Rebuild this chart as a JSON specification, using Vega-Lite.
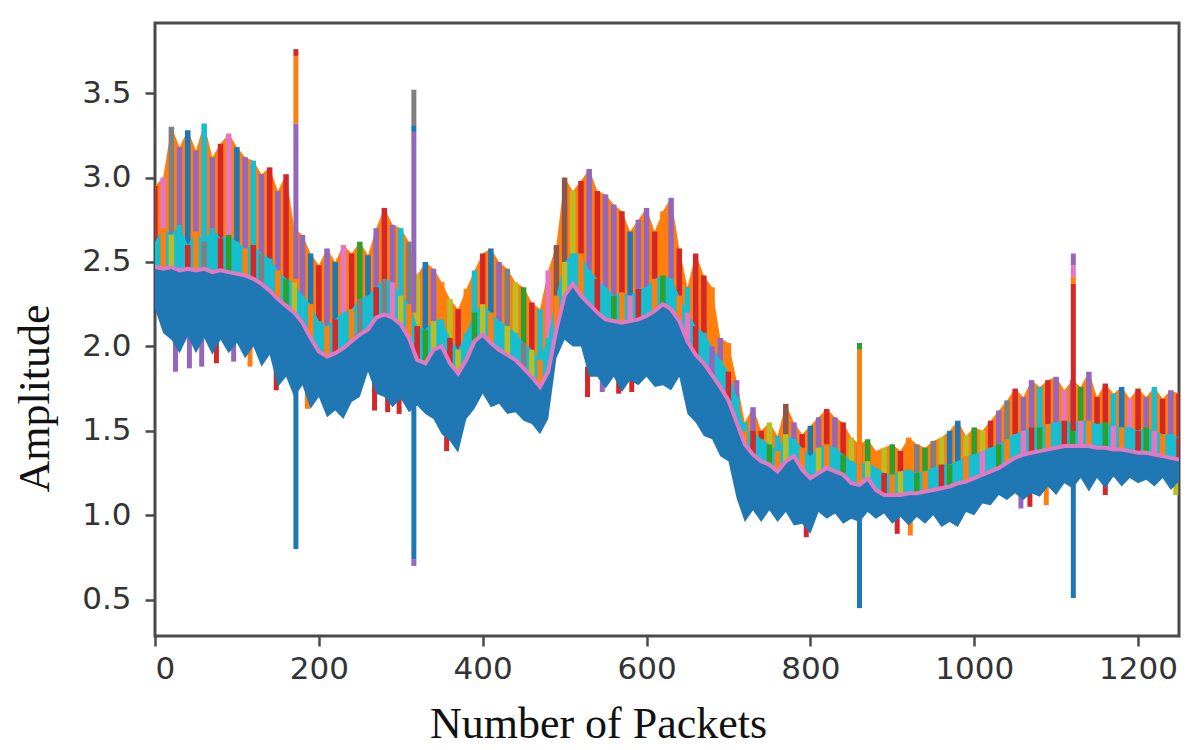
{
  "$schema": "https://vega.github.io/schema/vega-lite/v6.json",
  "width": 1024,
  "height": 613,
  "autosize": {"type": "none"},
  "padding": {"left": 155, "top": 23, "right": 17, "bottom": 114},
  "background": "white",
  "config": {
    "view": {"stroke": "#4a4a4a", "strokeWidth": 3},
    "axis": {
      "grid": false, "domain": false, "ticks": true, "tickColor": "#4a4a4a", "tickWidth": 2.5, "tickSize": 10,
      "labelFont": "DejaVu Sans", "labelFontSize": 31, "labelColor": "#333",
      "titleFont": "Liberation Serif", "titleFontSize": 44, "titleFontWeight": "normal", "titleColor": "#111"
    },
    "axisX": {"labelPadding": 8, "titleX": 443, "titleY": 101, "titleAlign": "center", "titleBaseline": "alphabetic"},
    "axisY": {"labelPadding": 14, "titleX": -107, "titleY": 375, "titleAngle": 270, "titleAlign": "center", "titleBaseline": "alphabetic"}
  },
  "datasets": {
    "band": [
      {"x": 0, "lo": 2.22, "mid": 2.47, "m2": 2.62, "hi": 2.95, "top": "s4", "sub": "s10"},
      {"x": 10, "lo": 2.08, "mid": 2.46, "m2": 2.70, "hi": 3.00, "top": "s7", "sub": "s2"},
      {"x": 20, "lo": 2.04, "mid": 2.47, "m2": 2.66, "hi": 3.30, "top": "s8", "sub": "s9"},
      {"x": 30, "lo": 1.96, "mid": 2.45, "m2": 2.72, "hi": 3.18, "top": "s5", "sub": "s10"},
      {"x": 40, "lo": 2.06, "mid": 2.46, "m2": 2.60, "hi": 3.28, "top": "s1", "sub": "s4"},
      {"x": 50, "lo": 1.96, "mid": 2.45, "m2": 2.68, "hi": 3.16, "top": "s5", "sub": "s2"},
      {"x": 60, "lo": 2.05, "mid": 2.46, "m2": 2.62, "hi": 3.32, "top": "s10", "sub": "s8"},
      {"x": 70, "lo": 1.95, "mid": 2.44, "m2": 2.70, "hi": 3.12, "top": "s5", "sub": "s10"},
      {"x": 80, "lo": 2.04, "mid": 2.45, "m2": 2.64, "hi": 3.20, "top": "s4", "sub": "s4"},
      {"x": 90, "lo": 1.96, "mid": 2.44, "m2": 2.66, "hi": 3.26, "top": "s7", "sub": "s3"},
      {"x": 100, "lo": 2.02, "mid": 2.43, "m2": 2.62, "hi": 3.18, "top": "s1", "sub": "s10"},
      {"x": 110, "lo": 1.93, "mid": 2.42, "m2": 2.58, "hi": 3.12, "top": "s5", "sub": "s2"},
      {"x": 120, "lo": 2.00, "mid": 2.40, "m2": 2.60, "hi": 3.10, "top": "s10", "sub": "s4"},
      {"x": 130, "lo": 1.88, "mid": 2.37, "m2": 2.55, "hi": 3.02, "top": "s5", "sub": "s8"},
      {"x": 140, "lo": 1.95, "mid": 2.33, "m2": 2.52, "hi": 3.06, "top": "s4", "sub": "s10"},
      {"x": 150, "lo": 1.76, "mid": 2.28, "m2": 2.45, "hi": 2.92, "top": "s5", "sub": "s2"},
      {"x": 160, "lo": 1.82, "mid": 2.24, "m2": 2.40, "hi": 3.02, "top": "s4", "sub": "s3"},
      {"x": 170, "lo": 1.70, "mid": 2.20, "m2": 2.38, "hi": 2.70, "top": "s2", "sub": "s9"},
      {"x": 180, "lo": 1.77, "mid": 2.14, "m2": 2.30, "hi": 2.66, "top": "s5", "sub": "s10"},
      {"x": 190, "lo": 1.63, "mid": 2.05, "m2": 2.25, "hi": 2.55, "top": "s1", "sub": "s2"},
      {"x": 200, "lo": 1.70, "mid": 1.97, "m2": 2.15, "hi": 2.48, "top": "s4", "sub": "s10"},
      {"x": 210, "lo": 1.58, "mid": 1.94, "m2": 2.12, "hi": 2.58, "top": "s5", "sub": "s2"},
      {"x": 220, "lo": 1.62, "mid": 1.96, "m2": 2.16, "hi": 2.50, "top": "s1", "sub": "s4"},
      {"x": 230, "lo": 1.57, "mid": 1.99, "m2": 2.20, "hi": 2.60, "top": "s7", "sub": "s10"},
      {"x": 240, "lo": 1.67, "mid": 2.03, "m2": 2.22, "hi": 2.55, "top": "s4", "sub": "s2"},
      {"x": 250, "lo": 1.70, "mid": 2.07, "m2": 2.28, "hi": 2.62, "top": "s3", "sub": "s8"},
      {"x": 260, "lo": 1.85, "mid": 2.10, "m2": 2.30, "hi": 2.54, "top": "s1", "sub": "s10"},
      {"x": 270, "lo": 1.72, "mid": 2.17, "m2": 2.35, "hi": 2.70, "top": "s5", "sub": "s4"},
      {"x": 280, "lo": 1.70, "mid": 2.19, "m2": 2.40, "hi": 2.82, "top": "s4", "sub": "s8"},
      {"x": 290, "lo": 1.64, "mid": 2.17, "m2": 2.38, "hi": 2.72, "top": "s5", "sub": "s7"},
      {"x": 300, "lo": 1.69, "mid": 2.13, "m2": 2.30, "hi": 2.70, "top": "s10", "sub": "s9"},
      {"x": 310, "lo": 1.61, "mid": 2.05, "m2": 2.25, "hi": 2.62, "top": "s8", "sub": "s2"},
      {"x": 320, "lo": 1.65, "mid": 1.92, "m2": 2.12, "hi": 2.42, "top": "s9", "sub": "s4"},
      {"x": 330, "lo": 1.60, "mid": 1.90, "m2": 2.10, "hi": 2.50, "top": "s1", "sub": "s3"},
      {"x": 340, "lo": 1.57, "mid": 1.98, "m2": 2.15, "hi": 2.46, "top": "s5", "sub": "s9"},
      {"x": 350, "lo": 1.48, "mid": 2.00, "m2": 2.16, "hi": 2.38, "top": "s2", "sub": "s10"},
      {"x": 360, "lo": 1.44, "mid": 1.90, "m2": 2.05, "hi": 2.28, "top": "s9", "sub": "s4"},
      {"x": 370, "lo": 1.37, "mid": 1.84, "m2": 1.98, "hi": 2.22, "top": "s4", "sub": "s9"},
      {"x": 380, "lo": 1.57, "mid": 1.92, "m2": 2.08, "hi": 2.34, "top": "s2", "sub": "s10"},
      {"x": 390, "lo": 1.63, "mid": 2.03, "m2": 2.20, "hi": 2.45, "top": "s10", "sub": "s3"},
      {"x": 400, "lo": 1.72, "mid": 2.07, "m2": 2.25, "hi": 2.55, "top": "s4", "sub": "s9"},
      {"x": 410, "lo": 1.64, "mid": 2.02, "m2": 2.20, "hi": 2.58, "top": "s1", "sub": "s2"},
      {"x": 420, "lo": 1.66, "mid": 1.98, "m2": 2.15, "hi": 2.50, "top": "s5", "sub": "s10"},
      {"x": 430, "lo": 1.60, "mid": 1.95, "m2": 2.12, "hi": 2.46, "top": "s8", "sub": "s9"},
      {"x": 440, "lo": 1.61, "mid": 1.92, "m2": 2.08, "hi": 2.38, "top": "s9", "sub": "s10"},
      {"x": 450, "lo": 1.56, "mid": 1.87, "m2": 2.02, "hi": 2.35, "top": "s3", "sub": "s8"},
      {"x": 460, "lo": 1.54, "mid": 1.82, "m2": 1.98, "hi": 2.26, "top": "s4", "sub": "s9"},
      {"x": 470, "lo": 1.48, "mid": 1.76, "m2": 1.92, "hi": 2.22, "top": "s10", "sub": "s2"},
      {"x": 480, "lo": 1.57, "mid": 1.85, "m2": 2.05, "hi": 2.45, "top": "s7", "sub": "s10"},
      {"x": 490, "lo": 1.93, "mid": 2.10, "m2": 2.30, "hi": 2.60, "top": "s6", "sub": "s2"},
      {"x": 500, "lo": 2.04, "mid": 2.30, "m2": 2.50, "hi": 3.00, "top": "s6", "sub": "s9"},
      {"x": 510, "lo": 2.00, "mid": 2.37, "m2": 2.55, "hi": 2.92, "top": "s9", "sub": "s10"},
      {"x": 520, "lo": 2.00, "mid": 2.30, "m2": 2.55, "hi": 2.98, "top": "s4", "sub": "s2"},
      {"x": 530, "lo": 1.82, "mid": 2.25, "m2": 2.45, "hi": 3.05, "top": "s5", "sub": "s10"},
      {"x": 540, "lo": 1.82, "mid": 2.20, "m2": 2.40, "hi": 2.92, "top": "s4", "sub": "s4"},
      {"x": 550, "lo": 1.75, "mid": 2.16, "m2": 2.35, "hi": 2.90, "top": "s5", "sub": "s10"},
      {"x": 560, "lo": 1.82, "mid": 2.15, "m2": 2.30, "hi": 2.84, "top": "s5", "sub": "s3"},
      {"x": 570, "lo": 1.73, "mid": 2.14, "m2": 2.32, "hi": 2.80, "top": "s4", "sub": "s2"},
      {"x": 580, "lo": 1.80, "mid": 2.15, "m2": 2.30, "hi": 2.68, "top": "s1", "sub": "s7"},
      {"x": 590, "lo": 1.77, "mid": 2.16, "m2": 2.34, "hi": 2.75, "top": "s5", "sub": "s4"},
      {"x": 600, "lo": 1.82, "mid": 2.18, "m2": 2.35, "hi": 2.82, "top": "s5", "sub": "s10"},
      {"x": 610, "lo": 1.76, "mid": 2.21, "m2": 2.40, "hi": 2.68, "top": "s4", "sub": "s2"},
      {"x": 620, "lo": 1.77, "mid": 2.25, "m2": 2.42, "hi": 2.80, "top": "s2", "sub": "s3"},
      {"x": 630, "lo": 1.74, "mid": 2.22, "m2": 2.40, "hi": 2.88, "top": "s5", "sub": "s10"},
      {"x": 640, "lo": 1.82, "mid": 2.15, "m2": 2.30, "hi": 2.58, "top": "s4", "sub": "s2"},
      {"x": 650, "lo": 1.60, "mid": 2.03, "m2": 2.20, "hi": 2.35, "top": "s10", "sub": "s7"},
      {"x": 660, "lo": 1.55, "mid": 1.95, "m2": 2.12, "hi": 2.55, "top": "s4", "sub": "s4"},
      {"x": 670, "lo": 1.47, "mid": 1.90, "m2": 2.08, "hi": 2.42, "top": "s4", "sub": "s10"},
      {"x": 680, "lo": 1.45, "mid": 1.83, "m2": 2.00, "hi": 2.35, "top": "s2", "sub": "s5"},
      {"x": 690, "lo": 1.35, "mid": 1.76, "m2": 1.92, "hi": 2.05, "top": "s5", "sub": "s10"},
      {"x": 700, "lo": 1.32, "mid": 1.68, "m2": 1.85, "hi": 2.02, "top": "s2", "sub": "s4"},
      {"x": 710, "lo": 1.10, "mid": 1.55, "m2": 1.70, "hi": 1.80, "top": "s5", "sub": "s10"},
      {"x": 720, "lo": 0.96, "mid": 1.42, "m2": 1.50, "hi": 1.55, "top": "s10", "sub": "s2"},
      {"x": 730, "lo": 1.03, "mid": 1.36, "m2": 1.50, "hi": 1.64, "top": "s5", "sub": "s4"},
      {"x": 740, "lo": 0.96, "mid": 1.32, "m2": 1.45, "hi": 1.50, "top": "s4", "sub": "s10"},
      {"x": 750, "lo": 1.03, "mid": 1.30, "m2": 1.42, "hi": 1.55, "top": "s9", "sub": "s3"},
      {"x": 760, "lo": 0.96, "mid": 1.26, "m2": 1.38, "hi": 1.47, "top": "s10", "sub": "s2"},
      {"x": 770, "lo": 1.02, "mid": 1.32, "m2": 1.48, "hi": 1.66, "top": "s6", "sub": "s9"},
      {"x": 780, "lo": 0.94, "mid": 1.35, "m2": 1.45, "hi": 1.55, "top": "s5", "sub": "s10"},
      {"x": 790, "lo": 0.95, "mid": 1.27, "m2": 1.40, "hi": 1.48, "top": "s4", "sub": "s2"},
      {"x": 800, "lo": 0.89, "mid": 1.22, "m2": 1.35, "hi": 1.53, "top": "s1", "sub": "s10"},
      {"x": 810, "lo": 1.02, "mid": 1.25, "m2": 1.40, "hi": 1.58, "top": "s5", "sub": "s9"},
      {"x": 820, "lo": 0.98, "mid": 1.28, "m2": 1.42, "hi": 1.63, "top": "s4", "sub": "s2"},
      {"x": 830, "lo": 1.01, "mid": 1.26, "m2": 1.40, "hi": 1.58, "top": "s5", "sub": "s10"},
      {"x": 840, "lo": 0.95, "mid": 1.24, "m2": 1.36, "hi": 1.55, "top": "s4", "sub": "s3"},
      {"x": 850, "lo": 0.98, "mid": 1.19, "m2": 1.32, "hi": 1.46, "top": "s9", "sub": "s10"},
      {"x": 860, "lo": 0.96, "mid": 1.18, "m2": 1.30, "hi": 1.42, "top": "s1", "sub": "s2"},
      {"x": 870, "lo": 1.02, "mid": 1.22, "m2": 1.32, "hi": 1.45, "top": "s3", "sub": "s9"},
      {"x": 880, "lo": 0.98, "mid": 1.15, "m2": 1.28, "hi": 1.38, "top": "s2", "sub": "s10"},
      {"x": 890, "lo": 1.01, "mid": 1.12, "m2": 1.25, "hi": 1.40, "top": "s9", "sub": "s4"},
      {"x": 900, "lo": 0.95, "mid": 1.12, "m2": 1.24, "hi": 1.42, "top": "s3", "sub": "s2"},
      {"x": 910, "lo": 0.99, "mid": 1.12, "m2": 1.26, "hi": 1.38, "top": "s4", "sub": "s9"},
      {"x": 920, "lo": 0.94, "mid": 1.13, "m2": 1.27, "hi": 1.46, "top": "s2", "sub": "s10"},
      {"x": 930, "lo": 0.99, "mid": 1.13, "m2": 1.25, "hi": 1.42, "top": "s8", "sub": "s3"},
      {"x": 940, "lo": 0.95, "mid": 1.14, "m2": 1.26, "hi": 1.40, "top": "s3", "sub": "s2"},
      {"x": 950, "lo": 1.00, "mid": 1.15, "m2": 1.28, "hi": 1.44, "top": "s8", "sub": "s10"},
      {"x": 960, "lo": 0.93, "mid": 1.16, "m2": 1.30, "hi": 1.46, "top": "s9", "sub": "s4"},
      {"x": 970, "lo": 0.96, "mid": 1.17, "m2": 1.30, "hi": 1.50, "top": "s1", "sub": "s3"},
      {"x": 980, "lo": 0.93, "mid": 1.19, "m2": 1.32, "hi": 1.56, "top": "s1", "sub": "s10"},
      {"x": 990, "lo": 1.02, "mid": 1.20, "m2": 1.35, "hi": 1.47, "top": "s9", "sub": "s2"},
      {"x": 1000, "lo": 1.00, "mid": 1.22, "m2": 1.36, "hi": 1.52, "top": "s3", "sub": "s10"},
      {"x": 1010, "lo": 1.07, "mid": 1.24, "m2": 1.38, "hi": 1.50, "top": "s9", "sub": "s7"},
      {"x": 1020, "lo": 1.06, "mid": 1.26, "m2": 1.40, "hi": 1.56, "top": "s4", "sub": "s10"},
      {"x": 1030, "lo": 1.12, "mid": 1.28, "m2": 1.42, "hi": 1.62, "top": "s5", "sub": "s3"},
      {"x": 1040, "lo": 1.09, "mid": 1.31, "m2": 1.45, "hi": 1.68, "top": "s8", "sub": "s2"},
      {"x": 1050, "lo": 1.13, "mid": 1.34, "m2": 1.48, "hi": 1.75, "top": "s4", "sub": "s10"},
      {"x": 1060, "lo": 1.09, "mid": 1.36, "m2": 1.50, "hi": 1.70, "top": "s5", "sub": "s7"},
      {"x": 1070, "lo": 1.13, "mid": 1.37, "m2": 1.52, "hi": 1.80, "top": "s5", "sub": "s4"},
      {"x": 1080, "lo": 1.11, "mid": 1.38, "m2": 1.52, "hi": 1.76, "top": "s10", "sub": "s3"},
      {"x": 1090, "lo": 1.17, "mid": 1.39, "m2": 1.54, "hi": 1.80, "top": "s4", "sub": "s2"},
      {"x": 1100, "lo": 1.12, "mid": 1.40, "m2": 1.55, "hi": 1.82, "top": "s5", "sub": "s10"},
      {"x": 1110, "lo": 1.19, "mid": 1.41, "m2": 1.56, "hi": 1.74, "top": "s7", "sub": "s4"},
      {"x": 1120, "lo": 1.16, "mid": 1.41, "m2": 1.55, "hi": 1.80, "top": "s5", "sub": "s3"},
      {"x": 1130, "lo": 1.22, "mid": 1.41, "m2": 1.56, "hi": 1.76, "top": "s3", "sub": "s7"},
      {"x": 1140, "lo": 1.14, "mid": 1.41, "m2": 1.56, "hi": 1.85, "top": "s5", "sub": "s2"},
      {"x": 1150, "lo": 1.22, "mid": 1.40, "m2": 1.54, "hi": 1.70, "top": "s4", "sub": "s10"},
      {"x": 1160, "lo": 1.16, "mid": 1.40, "m2": 1.55, "hi": 1.78, "top": "s4", "sub": "s3"},
      {"x": 1170, "lo": 1.23, "mid": 1.39, "m2": 1.53, "hi": 1.72, "top": "s10", "sub": "s7"},
      {"x": 1180, "lo": 1.17, "mid": 1.39, "m2": 1.52, "hi": 1.76, "top": "s1", "sub": "s2"},
      {"x": 1190, "lo": 1.22, "mid": 1.38, "m2": 1.52, "hi": 1.69, "top": "s7", "sub": "s10"},
      {"x": 1200, "lo": 1.19, "mid": 1.37, "m2": 1.50, "hi": 1.75, "top": "s4", "sub": "s4"},
      {"x": 1210, "lo": 1.21, "mid": 1.37, "m2": 1.52, "hi": 1.70, "top": "s5", "sub": "s3"},
      {"x": 1220, "lo": 1.17, "mid": 1.36, "m2": 1.50, "hi": 1.76, "top": "s10", "sub": "s7"},
      {"x": 1230, "lo": 1.22, "mid": 1.35, "m2": 1.48, "hi": 1.69, "top": "s4", "sub": "s2"},
      {"x": 1240, "lo": 1.15, "mid": 1.34, "m2": 1.48, "hi": 1.74, "top": "s5", "sub": "s10"},
      {"x": 1250, "lo": 1.20, "mid": 1.33, "m2": 1.46, "hi": 1.72, "top": "s4", "sub": "s4"}
    ],
    "spikes": [
      {"x": 172, "y": 2.4, "y2": 3.32, "sub": "s5"},
      {"x": 172, "y": 3.32, "y2": 3.72, "sub": "s2"},
      {"x": 172, "y": 3.72, "y2": 3.76, "sub": "s4"},
      {"x": 172, "y": 1.8, "y2": 0.80, "sub": "s1"},
      {"x": 316, "y": 2.2, "y2": 3.27, "sub": "s5"},
      {"x": 316, "y": 3.27, "y2": 3.31, "sub": "s1"},
      {"x": 316, "y": 3.31, "y2": 3.52, "sub": "s8"},
      {"x": 316, "y": 1.7, "y2": 0.74, "sub": "s1"},
      {"x": 316, "y": 0.74, "y2": 0.70, "sub": "s5"},
      {"x": 860, "y": 1.3, "y2": 1.98, "sub": "s2"},
      {"x": 860, "y": 1.98, "y2": 2.02, "sub": "s3"},
      {"x": 860, "y": 1.1, "y2": 0.45, "sub": "s1"},
      {"x": 1121, "y": 1.5, "y2": 2.37, "sub": "s4"},
      {"x": 1121, "y": 2.37, "y2": 2.41, "sub": "s2"},
      {"x": 1121, "y": 2.41, "y2": 2.48, "sub": "s7"},
      {"x": 1121, "y": 2.48, "y2": 2.55, "sub": "s5"},
      {"x": 1121, "y": 1.3, "y2": 0.51, "sub": "s1"}
    ],
    "fringe": [
      {"x": 25, "y": 2.08, "y2": 1.85, "sub": "s5"},
      {"x": 42, "y": 2.08, "y2": 1.87, "sub": "s5"},
      {"x": 57, "y": 2.06, "y2": 1.88, "sub": "s5"},
      {"x": 75, "y": 2.05, "y2": 1.90, "sub": "s4"},
      {"x": 96, "y": 2.06, "y2": 1.91, "sub": "s5"},
      {"x": 116, "y": 2.03, "y2": 1.88, "sub": "s2"},
      {"x": 148, "y": 1.88, "y2": 1.74, "sub": "s4"},
      {"x": 186, "y": 1.78, "y2": 1.63, "sub": "s2"},
      {"x": 268, "y": 1.80, "y2": 1.62, "sub": "s4"},
      {"x": 284, "y": 1.76, "y2": 1.61, "sub": "s4"},
      {"x": 298, "y": 1.74, "y2": 1.60, "sub": "s4"},
      {"x": 356, "y": 1.53, "y2": 1.38, "sub": "s4"},
      {"x": 528, "y": 1.88, "y2": 1.70, "sub": "s4"},
      {"x": 546, "y": 1.86, "y2": 1.73, "sub": "s5"},
      {"x": 566, "y": 1.86, "y2": 1.72, "sub": "s4"},
      {"x": 582, "y": 1.86, "y2": 1.73, "sub": "s4"},
      {"x": 795, "y": 1.00, "y2": 0.87, "sub": "s4"},
      {"x": 906, "y": 1.03, "y2": 0.89, "sub": "s4"},
      {"x": 922, "y": 1.02, "y2": 0.88, "sub": "s2"},
      {"x": 1057, "y": 1.18, "y2": 1.04, "sub": "s5"},
      {"x": 1068, "y": 1.18, "y2": 1.05, "sub": "s4"},
      {"x": 1088, "y": 1.22, "y2": 1.06, "sub": "s2"},
      {"x": 1160, "y": 1.24, "y2": 1.12, "sub": "s4"},
      {"x": 1246, "y": 1.24, "y2": 1.12, "sub": "s9"}
    ]
  },
  "encoding": {
    "x": {
      "field": "x", "type": "quantitative", "title": "Number of Packets",
      "scale": {"domain": [0, 1250], "nice": false, "zero": false},
      "axis": {"values": [0, 200, 400, 600, 800, 1000, 1200], "format": "d"}
    }
  },
  "layer": [
    {
      "data": {"name": "band"},
      "mark": {"type": "area", "clip": true, "color": "#ff7f0e"},
      "encoding": {
        "y": {"field": "mid", "type": "quantitative", "title": "Amplitude",
              "scale": {"domain": [0.285, 3.915], "nice": false, "zero": false},
              "axis": {"values": [0.5, 1.0, 1.5, 2.0, 2.5, 3.0, 3.5], "format": ".1f"}},
        "y2": {"field": "hi"}
      }
    },
    {
      "data": {"name": "band"},
      "mark": {"type": "rule", "strokeWidth": 5.5, "clip": true},
      "encoding": {
        "y": {"field": "mid", "type": "quantitative", "title": "Amplitude"},
        "y2": {"field": "hi"},
        "color": {"field": "top", "type": "nominal", "legend": null,
                  "scale": {"domain": ["s1", "s2", "s3", "s4", "s5", "s6", "s7", "s8", "s9", "s10"],
                            "range": ["#1f77b4", "#ff7f0e", "#2ca02c", "#d62728", "#9467bd", "#8c564b", "#e377c2", "#7f7f7f", "#bcbd22", "#17becf"]}}
      }
    },
    {
      "data": {"name": "band"},
      "mark": {"type": "area", "clip": true, "color": "#17becf"},
      "encoding": {
        "y": {"field": "mid", "type": "quantitative", "title": "Amplitude"},
        "y2": {"field": "m2"}
      }
    },
    {
      "data": {"name": "band"},
      "mark": {"type": "rule", "strokeWidth": 5.5, "clip": true},
      "encoding": {
        "y": {"field": "mid", "type": "quantitative", "title": "Amplitude"},
        "y2": {"field": "m2"},
        "color": {"field": "sub", "type": "nominal", "legend": null}
      }
    },
    {
      "data": {"name": "fringe"},
      "mark": {"type": "rule", "strokeWidth": 5, "clip": true},
      "encoding": {
        "y": {"field": "y", "type": "quantitative", "title": "Amplitude"},
        "y2": {"field": "y2"},
        "color": {"field": "sub", "type": "nominal", "legend": null}
      }
    },
    {
      "data": {"name": "band"},
      "mark": {"type": "area", "clip": true, "color": "#1f77b4"},
      "encoding": {
        "y": {"field": "lo", "type": "quantitative", "title": "Amplitude"},
        "y2": {"field": "mid"}
      }
    },
    {
      "data": {"name": "band"},
      "mark": {"type": "line", "strokeWidth": 4, "clip": true, "color": "#e377c2"},
      "encoding": {
        "y": {"field": "mid", "type": "quantitative", "title": "Amplitude"}
      }
    },
    {
      "data": {"name": "spikes"},
      "mark": {"type": "rule", "strokeWidth": 5, "clip": true},
      "encoding": {
        "y": {"field": "y", "type": "quantitative", "title": "Amplitude"},
        "y2": {"field": "y2"},
        "color": {"field": "sub", "type": "nominal", "legend": null}
      }
    }
  ]
}
